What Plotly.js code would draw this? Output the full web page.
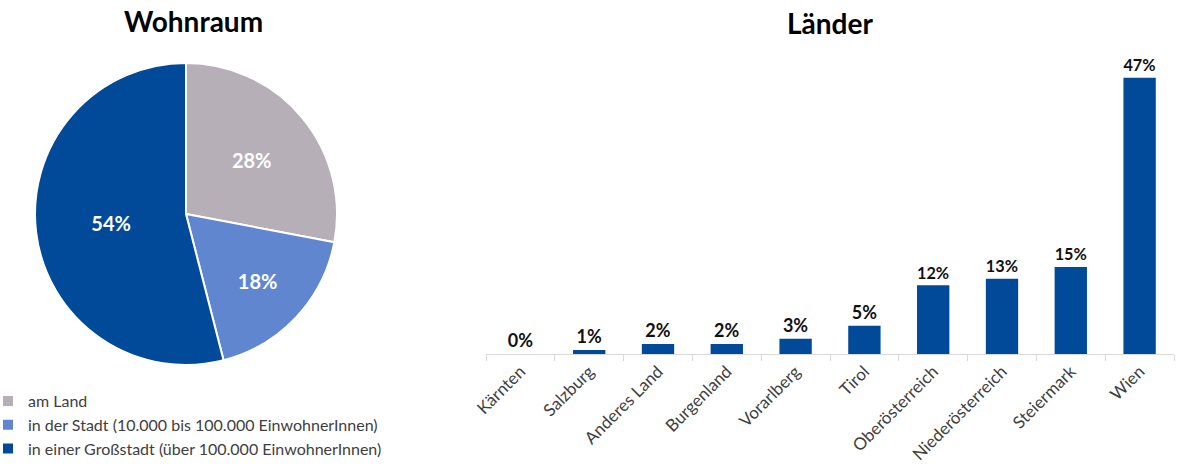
<!DOCTYPE html>
<html><head><meta charset="utf-8">
<script src="https://cdn.plot.ly/plotly-3.0.1.min.js"></script>
<style>html,body{margin:0;padding:0;background:#fff}#chart{width:1177px;height:474px}</style>
</head><body><div id="chart"></div>
<script>
const pieLabels = ["am Land", "in der Stadt (10.000 bis 100.000 EinwohnerInnen)", "in einer Großstadt (über 100.000 EinwohnerInnen)"];
const pieValues = [28, 18, 54];
const pieColors = ["#B6AFB8", "#5F86CE", "#004A99"];

const laender = ["Kärnten", "Salzburg", "Anderes Land", "Burgenland", "Vorarlberg", "Tirol", "Oberösterreich", "Niederösterreich", "Steiermark", "Wien"];
const laenderValues = [0, 0.7, 1.7, 1.7, 2.6, 4.8, 11.7, 12.8, 14.8, 47];
const laenderLabels = ["0%", "1%", "2%", "2%", "3%", "5%", "12%", "13%", "15%", "47%"];

const W = 1177, H = 474;
const px = v => v / W, py = v => 1 - v / H;
const FONT = "Lato, 'Noto Sans', sans-serif";

const data = [
  {
    type: "pie",
    labels: pieLabels,
    values: pieValues,
    sort: false,
    direction: "clockwise",
    rotation: 0,
    marker: {colors: pieColors, line: {color: "#ffffff", width: 2}},
    texttemplate: "%{value}%",
    textposition: "inside",
    insidetextorientation: "horizontal",
    textfont: {color: "#ffffff", size: 20, family: FONT, weight: "bold"},
    domain: {x: [px(35), px(337)], y: [py(365), py(63)]},
    hoverinfo: "label+value",
    showlegend: true
  },
  {
    type: "bar",
    x: laender,
    y: laenderValues,
    text: laenderLabels,
    texttemplate: "%{text}",
    textposition: "outside",
    cliponaxis: false,
    textfont: {color: "#111111", size: 18, family: FONT, weight: "bold"},
    marker: {color: "#004A99"},
    width: 0.47,
    xaxis: "x", yaxis: "y",
    showlegend: false
  }
];

const layout = {
  width: W, height: H,
  margin: {l: 0, r: 0, t: 0, b: 0, autoexpand: false},
  paper_bgcolor: "#ffffff",
  plot_bgcolor: "#ffffff",
  font: {family: FONT, color: "#404040", size: 16},
  showlegend: true,
  legend: {
    x: px(-12), y: py(384), xanchor: "left", yanchor: "top",
    font: {size: 16, color: "#404040", family: FONT},
    itemwidth: 30, traceorder: "normal", bgcolor: "rgba(0,0,0,0)"
  },
  xaxis: {
    domain: [px(486), px(1174)],
    type: "category",
    tickangle: -45,
    showline: true, linecolor: "#d9d9d9", linewidth: 1,
    ticks: "outside", tickcolor: "#d9d9d9", ticklen: 6, tickson: "boundaries",
    tickfont: {size: 17, color: "#404040", family: FONT},
    showgrid: false, zeroline: false, fixedrange: true, automargin: false
  },
  yaxis: {
    domain: [py(354), py(60)],
    range: [0, 50],
    visible: false, showgrid: false, zeroline: false, fixedrange: true
  },
  annotations: [
    {text: "<b>Wohnraum</b>", x: px(193), y: py(21), xref: "paper", yref: "paper",
     xanchor: "center", yanchor: "middle", showarrow: false,
     font: {size: 28, color: "#000000", family: FONT}},
    {text: "<b>Länder</b>", x: px(830), y: py(23), xref: "paper", yref: "paper",
     xanchor: "center", yanchor: "middle", showarrow: false,
     font: {size: 28, color: "#000000", family: FONT}}
  ]
};

Plotly.newPlot("chart", data, layout, {displayModeBar: false, staticPlot: true});
</script>
</body></html>
